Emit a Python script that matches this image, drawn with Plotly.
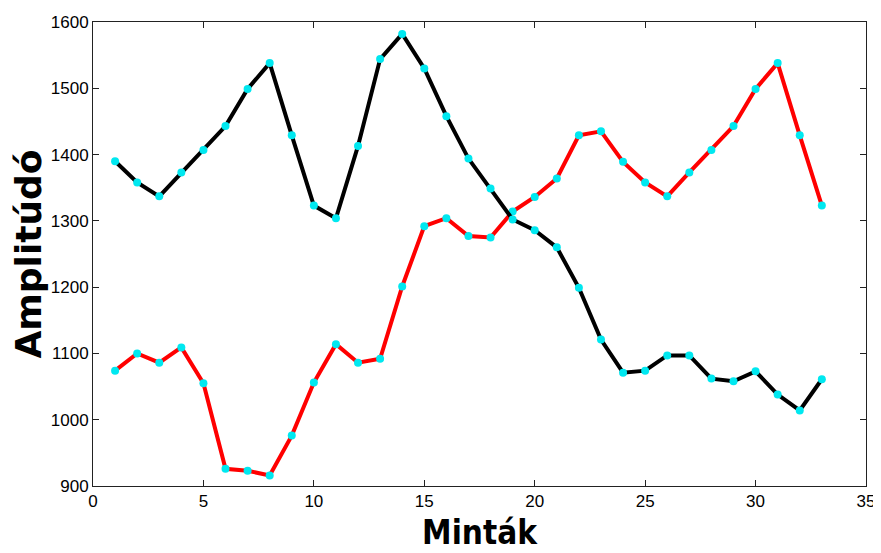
import plotly.graph_objects as go

x_vals = list(range(1, 34))
black_vals = [1390, 1358, 1337, 1373, 1407, 1443, 1499, 1538, 1429, 1323, 1304,
              1413, 1544, 1582, 1530, 1458, 1394, 1349, 1302, 1286, 1260, 1199,
              1121, 1071, 1074, 1097, 1097, 1062, 1058, 1073, 1038, 1014, 1061]
red_vals = [1074, 1100, 1086, 1109, 1055, 926, 923, 916, 976, 1056, 1114,
            1086, 1092, 1201, 1292, 1304, 1277, 1275, 1314, 1336, 1364, 1429,
            1435, 1389, 1358, 1337, 1373, 1407, 1443, 1499, 1538, 1429, 1323]
x_ticks = [0, 5, 10, 15, 20, 25, 30, 35]
y_ticks = [900, 1000, 1100, 1200, 1300, 1400, 1500, 1600]

fig = go.Figure()
fig.add_trace(go.Scatter(x=x_vals, y=red_vals, mode="lines+markers",
                         line=dict(color="#ff0000", width=4),
                         marker=dict(color="#00e8f0", size=8)))
fig.add_trace(go.Scatter(x=x_vals, y=black_vals, mode="lines+markers",
                         line=dict(color="#000000", width=4),
                         marker=dict(color="#00e8f0", size=8)))

axis_common = dict(showgrid=False, zeroline=False, showline=True, linecolor="#222222",
                   linewidth=1, mirror="ticks", ticks="inside", ticklen=6,
                   tickcolor="#222222", automargin=False,
                   tickfont=dict(family="Liberation Sans, Arial", size=17, color="black"))
fig.update_xaxes(range=[0, 35], tickvals=x_ticks, ticktext=[str(v) for v in x_ticks],
                 title=dict(text="Minták", standoff=10,
                            font=dict(family="DejaVu Sans Condensed", size=33,
                                      color="black", weight="bold")),
                 **axis_common)
fig.update_yaxes(range=[900, 1600], tickvals=y_ticks, ticktext=[str(v) for v in y_ticks],
                 title=dict(text="Amplitúdó", standoff=5,
                            font=dict(family="DejaVu Sans", size=36,
                                      color="black", weight="bold")),
                 **axis_common)
# page body has an 8px margin, so the figure is sized to fit the 881x553 window
fig.update_layout(width=873, height=545, showlegend=False,
                  plot_bgcolor="white", paper_bgcolor="white",
                  margin=dict(l=85, r=15, t=14, b=67))
fig.write_html("out.html")
